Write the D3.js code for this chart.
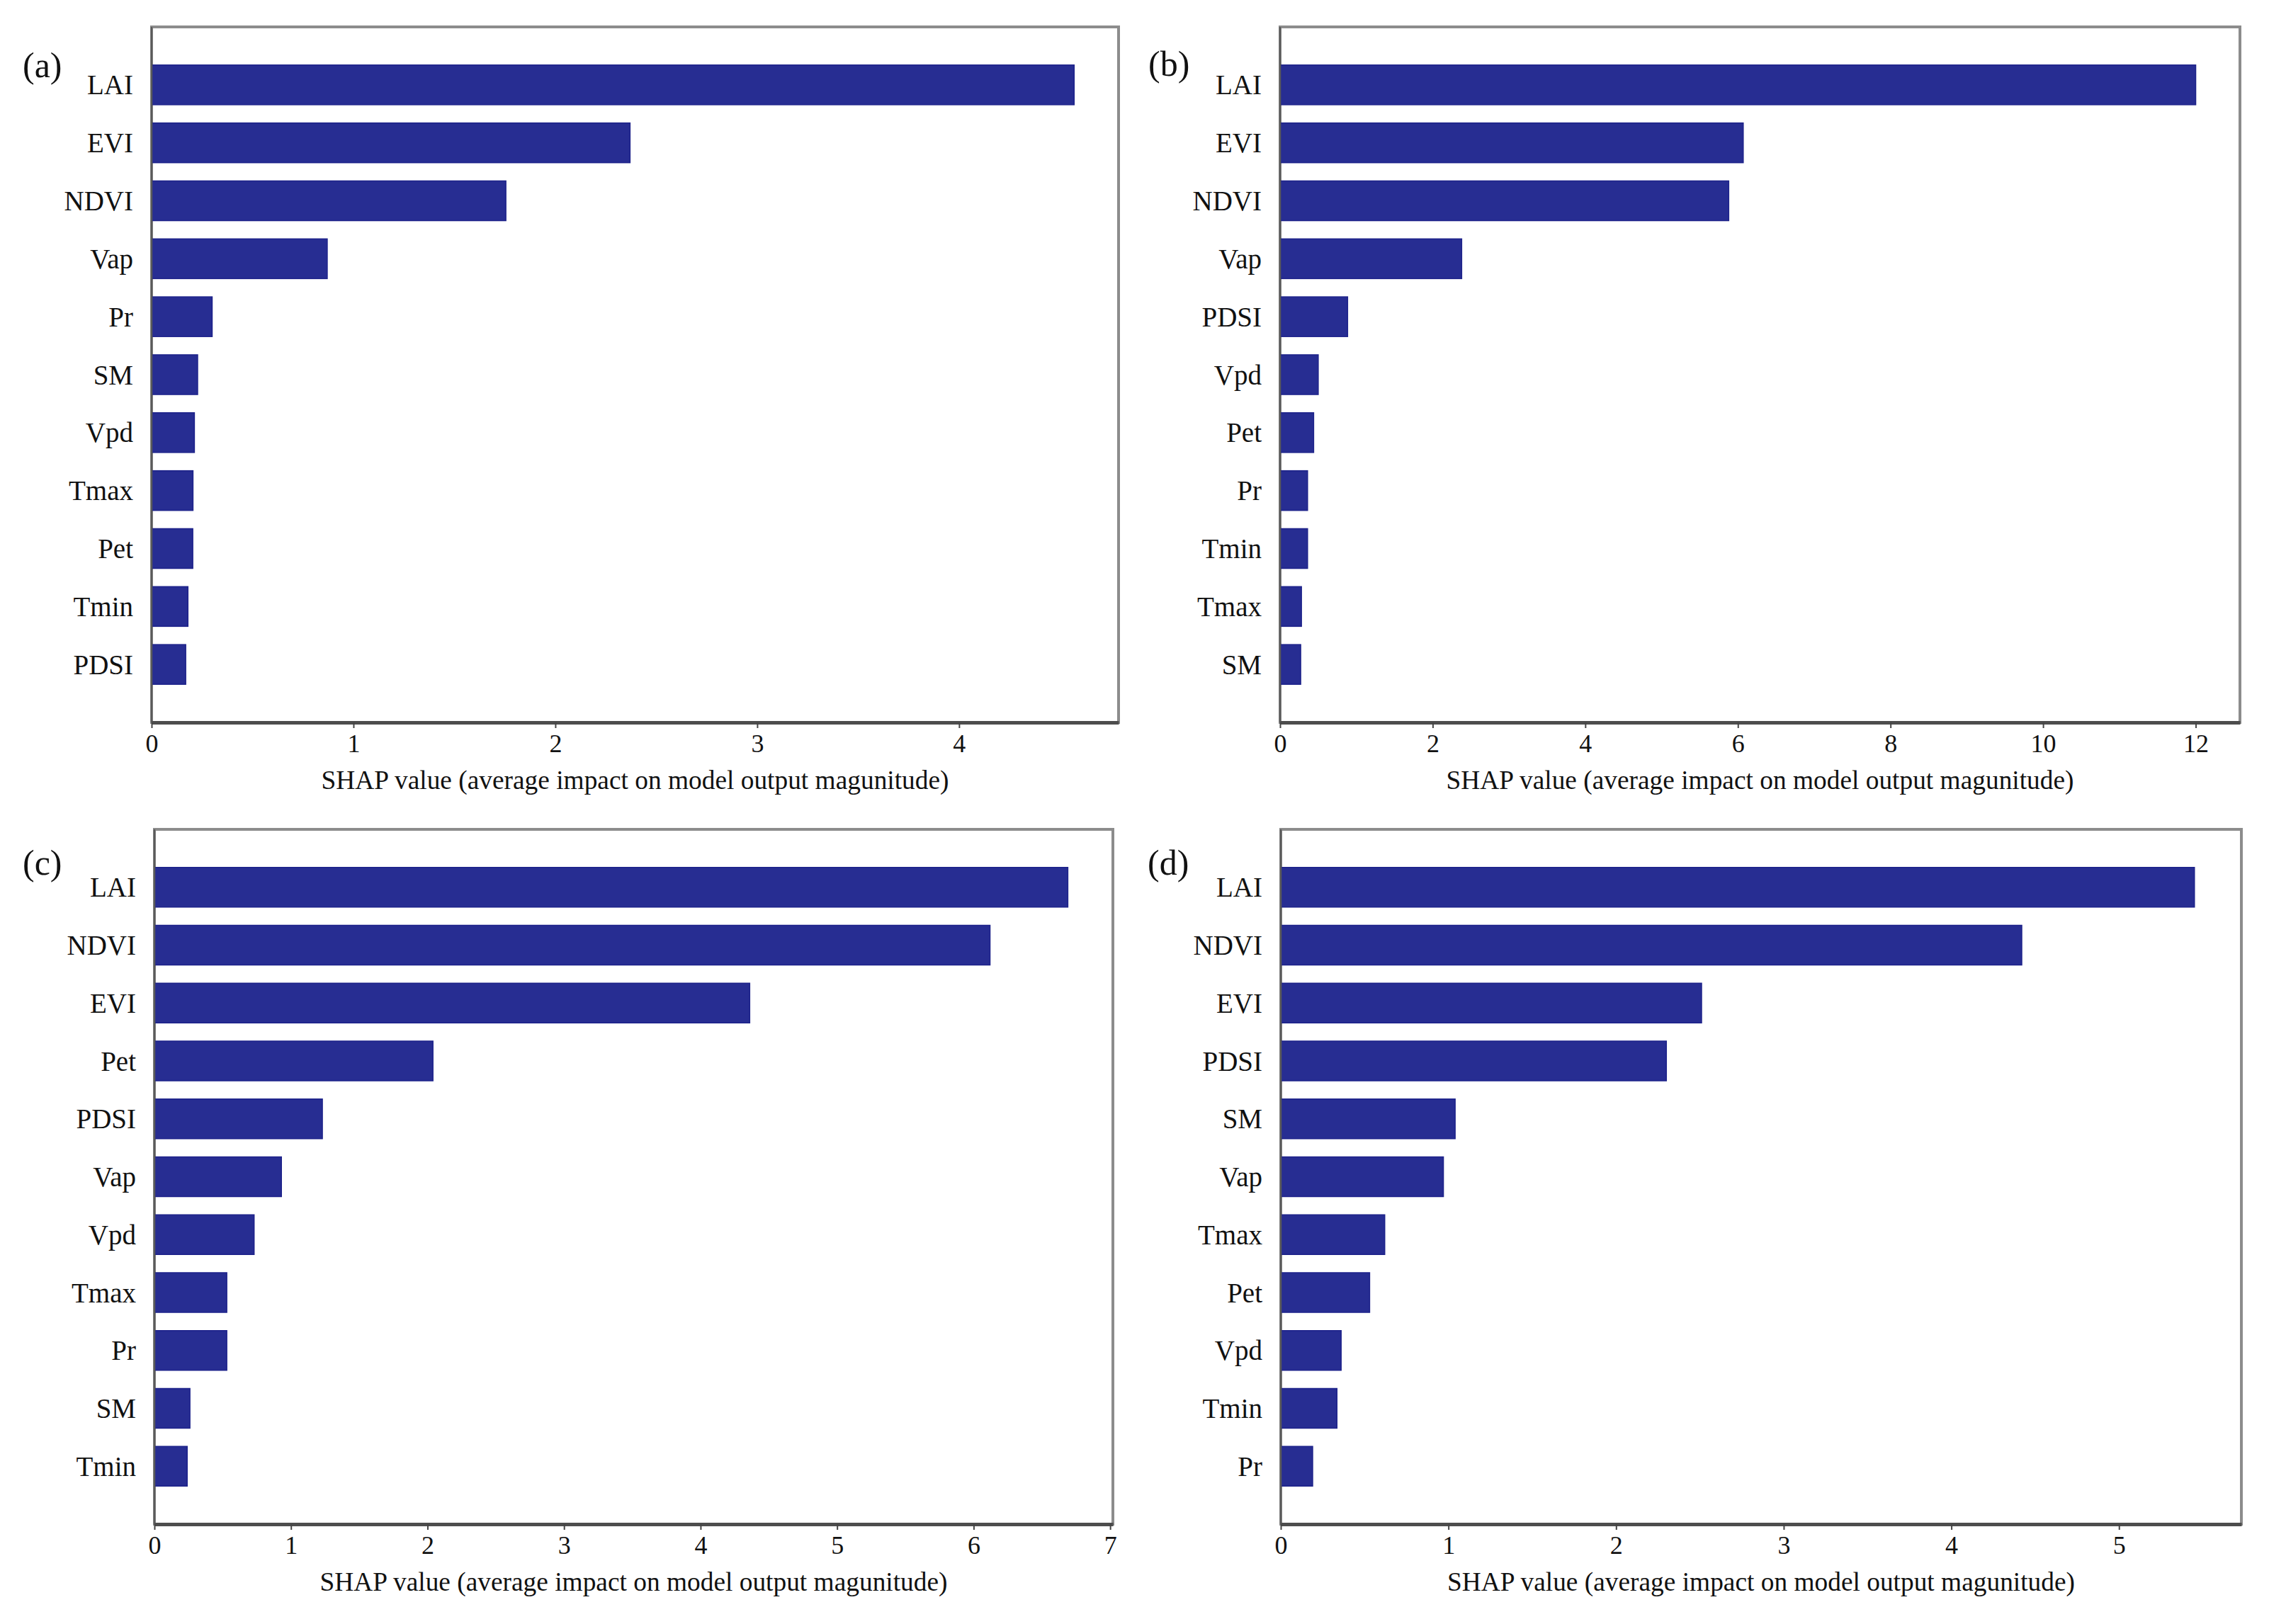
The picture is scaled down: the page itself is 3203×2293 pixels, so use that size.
<!DOCTYPE html>
<html>
<head>
<meta charset="utf-8">
<script src="https://cdn.jsdelivr.net/npm/d3@7"></script>
<style>
  body { margin: 0; background: #fff; }
  svg text { font-family: "Liberation Serif", "Times New Roman", serif; fill: #111; }
</style>
</head>
<body>
<svg id="chart" width="3203" height="2293"></svg>
<script>
// (a)
var catsA = ["LAI", "EVI", "NDVI", "Vap", "Pr", "SM", "Vpd", "Tmax", "Pet", "Tmin", "PDSI"];
var valsA = [4.57, 2.37, 1.755, 0.87, 0.30, 0.228, 0.212, 0.205, 0.204, 0.18, 0.169];
var ticksA = [0, 1, 2, 3, 4];
var maxA = 4.79;

// (b)
var catsB = ["LAI", "EVI", "NDVI", "Vap", "PDSI", "Vpd", "Pet", "Pr", "Tmin", "Tmax", "SM"];
var valsB = [12.0, 6.07, 5.88, 2.38, 0.885, 0.50, 0.44, 0.36, 0.36, 0.28, 0.27];
var ticksB = [0, 2, 4, 6, 8, 10, 12];
var maxB = 12.58;

// (c)
var catsC = ["LAI", "NDVI", "EVI", "Pet", "PDSI", "Vap", "Vpd", "Tmax", "Pr", "SM", "Tmin"];
var valsC = [6.69, 6.12, 4.36, 2.04, 1.23, 0.93, 0.73, 0.53, 0.53, 0.26, 0.24];
var ticksC = [0, 1, 2, 3, 4, 5, 6, 7];
var maxC = 7.02;

// (d)
var catsD = ["LAI", "NDVI", "EVI", "PDSI", "SM", "Vap", "Tmax", "Pet", "Vpd", "Tmin", "Pr"];
var valsD = [5.45, 4.42, 2.51, 2.30, 1.04, 0.97, 0.62, 0.53, 0.36, 0.335, 0.19];
var ticksD = [0, 1, 2, 3, 4, 5];
var maxD = 5.73;

var panelLabels = ["(a)", "(b)", "(c)", "(d)"];
var xTitle = "SHAP value (average impact on model output magunitude)";

var barColor = "#272d92";

var panels = [
  { label: panelLabels[0], cats: catsA, vals: valsA, ticks: ticksA, max: maxA,
    left: 214, right: 1579, top: 38, bottom: 1020, labelX: 32, labelY: 94 },
  { label: panelLabels[1], cats: catsB, vals: valsB, ticks: ticksB, max: maxB,
    left: 1807, right: 3162, top: 38, bottom: 1020, labelX: 1621, labelY: 92 },
  { label: panelLabels[2], cats: catsC, vals: valsC, ticks: ticksC, max: maxC,
    left: 218, right: 1571, top: 1171, bottom: 2152, labelX: 32, labelY: 1220 },
  { label: panelLabels[3], cats: catsD, vals: valsD, ticks: ticksD, max: maxD,
    left: 1808, right: 3164, top: 1171, bottom: 2152, labelX: 1620, labelY: 1220 }
];

function drawPanel(svg, p) {
  var g = svg.append("g");

  var xScale = d3.scaleLinear()
                 .domain([0, p.max])
                 .range([p.left, p.right]);

  var yScale = d3.scalePoint()
                 .domain(p.cats)
                 .range([p.top, p.bottom])
                 .padding(1);

  var barHeight = yScale.step() * 0.685;

  // frame
  g.append("rect")
      .attr("x", p.left)
      .attr("y", p.top)
      .attr("width", p.right - p.left)
      .attr("height", p.bottom - p.top)
      .attr("fill", "none")
      .attr("stroke", "#8c8c8c")
      .attr("stroke-width", 4);

  g.selectAll(".bar")
    .data(p.cats.map((c, i) => ({ cat: c, val: p.vals[i] })))
    .enter()
    .append("rect")
      .classed("bar", true)
      .attr("x", xScale(0))
      .attr("y", d => yScale(d.cat) - barHeight / 2)
      .attr("width", d => xScale(d.val) - xScale(0))
      .attr("height", barHeight)
      .attr("fill", barColor)
      .attr("stroke", "#1d228a")
      .attr("stroke-width", 1.5);

  // left axis line
  g.append("line")
      .attr("x1", p.left).attr("x2", p.left)
      .attr("y1", p.top).attr("y2", p.bottom)
      .attr("stroke", "#5a5a5a")
      .attr("stroke-width", 2.5);

  g.selectAll(".cat-label")
    .data(p.cats)
    .enter()
    .append("text")
      .classed("cat-label", true)
      .attr("x", p.left - 26)
      .attr("y", d => yScale(d))
      .attr("dy", "0.35em")
      .attr("text-anchor", "end")
      .style("font-size", "39px")
      .text(d => d);

  var xAxis = d3.axisBottom(xScale)
                .tickValues(p.ticks)
                .tickFormat(d3.format("d"))
                .tickSizeInner(8)
                .tickSizeOuter(0)
                .tickPadding(8);

  var ax = g.append("g")
      .attr("transform", "translate(0," + p.bottom + ")")
      .call(xAxis);

  ax.select(".domain")
      .attr("stroke", "#4d4d4d")
      .attr("stroke-width", 5);
  ax.selectAll(".tick line")
      .attr("stroke", "#444")
      .attr("stroke-width", 2);
  ax.selectAll(".tick text")
      .style("font-size", "36px")
      .style("font-family", "'Liberation Serif', serif")
      .attr("fill", "#111");

  g.append("text")
      .attr("x", (p.left + p.right) / 2)
      .attr("y", p.bottom + 94)
      .attr("text-anchor", "middle")
      .style("font-size", "37px")
      .attr("textLength", 886)
      .attr("lengthAdjust", "spacingAndGlyphs")
      .text(xTitle);

  g.append("text")
      .attr("x", p.labelX)
      .attr("y", p.labelY)
      .attr("dy", "0.3em")
      .style("font-size", "50px")
      .text(p.label);
}

var svg = d3.select("#chart");
panels.forEach(p => drawPanel(svg, p));
</script>
</body>
</html>
